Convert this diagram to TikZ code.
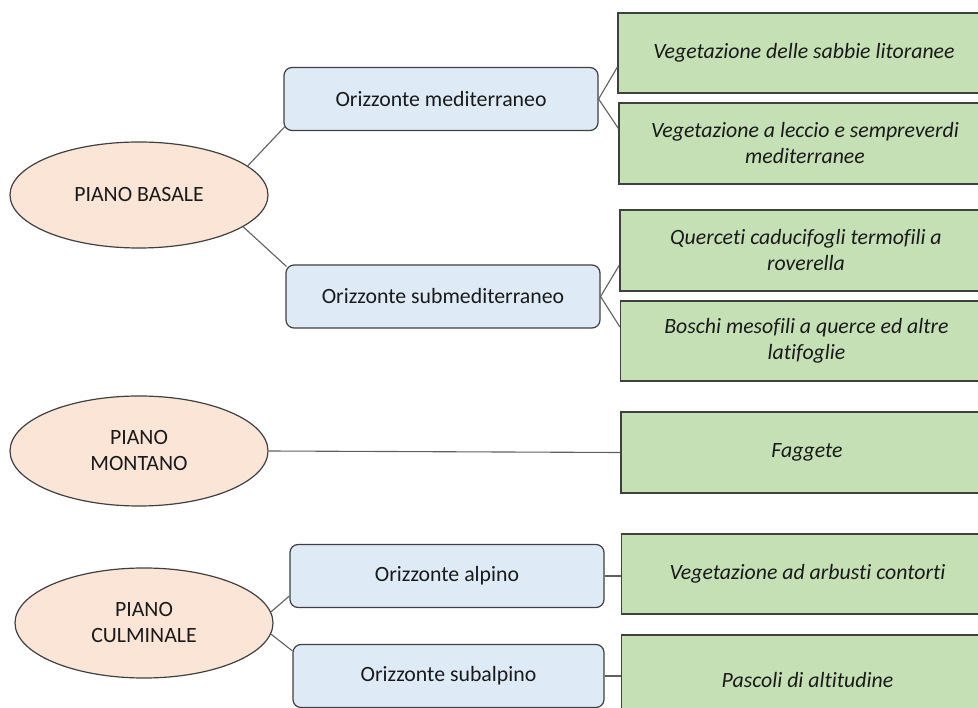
\documentclass[tikz,border=0pt]{standalone}
\usepackage{fontspec}
\setmainfont[Ligatures={NoCommon}]{Carlito}
\usetikzlibrary{shapes.geometric,calc}
\definecolor{peach}{HTML}{FBE5D6}
\definecolor{paleblue}{HTML}{DEEBF7}
\definecolor{palegreen}{HTML}{C5E0B4}
\definecolor{edgegray}{HTML}{404040}
\definecolor{linkgray}{HTML}{5F5F5F}
\definecolor{txt}{HTML}{1A1A1A}
\begin{document}
\begin{tikzpicture}[x=1pt,y=-1pt,
  every node/.style={font=\fontsize{21.8}{26}\selectfont, text=txt, inner sep=0pt, align=center},
  pianobox/.style={ellipse, draw=edgegray, line width=1.2pt, fill=peach, minimum width=258pt, minimum height=106pt},
  orizbox/.style={rectangle, rounded corners=8pt, draw=edgegray, line width=1.2pt, fill=paleblue, minimum width=314pt, minimum height=63pt},
  vegbox/.style={rectangle, draw=edgegray, line width=1.2pt, fill=palegreen, minimum width=372pt, minimum height=80pt, font=\fontsize{21.8}{26}\selectfont\itshape},
  link/.style={draw=linkgray, line width=1.1pt}
]
\useasboundingbox (0,0) rectangle (978,708);
\clip (0,0) rectangle (978,708);

% piani
\node[pianobox] (basale) at (139,195) {PIANO BASALE};
\node[pianobox, minimum height=110pt] (montano) at (139,451) {PIANO\\MONTANO};
\node[pianobox, minimum height=110pt] (culm) at (144,623) {PIANO\\CULMINALE};

% orizzonti
\node[orizbox] (med) at (441,99) {Orizzonte mediterraneo};
\node[orizbox] (sub) at (443,296.5) {Orizzonte submediterraneo};
\node[orizbox, minimum width=314pt] (alp) at (447,576) {Orizzonte alpino};
\node[orizbox, minimum width=311pt] (subalp) at (448.5,676) {Orizzonte subalpino};

% vegetazione
\node[vegbox] (g1) at (804,53) {Vegetazione delle sabbie litoranee};
\node[vegbox, minimum height=81pt] (g2) at (805,143.5) {Vegetazione a leccio e sempreverdi\\mediterranee};
\node[vegbox, minimum height=81pt] (g3) at (806,250.5) {Querceti caducifogli termofili a\\roverella};
\node[vegbox] (g4) at (806.5,341) {Boschi mesofili a querce ed altre\\latifoglie};
\node[vegbox, minimum height=81pt] (g5) at (807,452.5) {Faggete};
\node[vegbox] (g6) at (807.5,574) {Vegetazione ad arbusti contorti};
\node[vegbox, minimum height=90pt] (g7) at (807.5,680) {Pascoli di altitudine};

% connettori
\draw[link] (basale.15) -- ([xshift=1pt,yshift=4pt]med.south west);
\draw[link] (basale.-17) -- ([xshift=1pt,yshift=-2pt]sub.north west);
\draw[link] (med.east) -- ([yshift=-14pt]g1.west);
\draw[link] (med.east) -- ([yshift=15pt]g2.west);
\draw[link] (sub.east) -- ([yshift=-14.5pt]g3.west);
\draw[link] (sub.east) -- ([yshift=14pt]g4.west);
\draw[link] (montano.east) -- (g5.west);
\draw[link] (culm.5) -- ([yshift=-20pt]alp.west);
\draw[link] (culm.-5) -- ([yshift=-7pt]subalp.north west);
\draw[link] (alp.east) -- (alp.east -| g6.west);
\draw[link] (subalp.east) -- (subalp.east -| g7.west);
\end{tikzpicture}
\end{document}
